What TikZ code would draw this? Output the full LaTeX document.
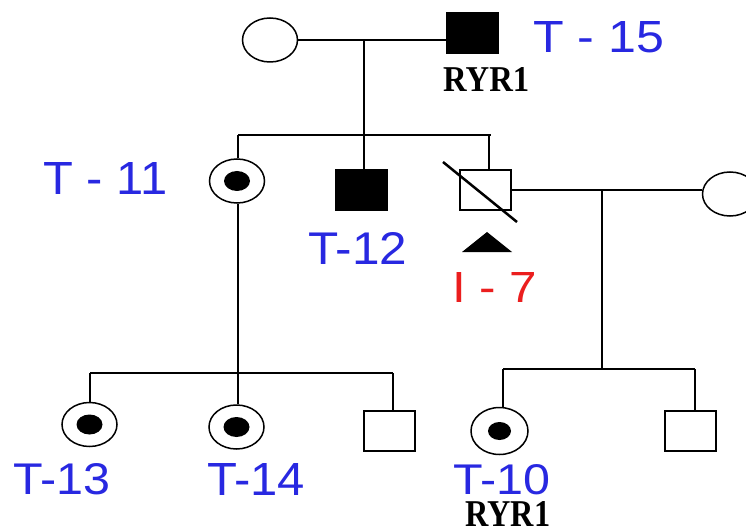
\documentclass[tikz,border=0pt]{standalone}
\usepackage{fontspec}
\usepackage{graphicx}
\newfontfamily\lsans{Liberation Sans}
\newfontfamily\lserif{Liberation Serif}
\usetikzlibrary{shapes.geometric}
\definecolor{lblblue}{RGB}{40,40,225}
\definecolor{lblred}{RGB}{235,30,30}
\newcommand{\fitlabel}[3]{\resizebox{#1pt}{#2pt}{#3}}
\begin{document}
\begin{tikzpicture}[x=1pt,y=-1pt,
  female/.style={ellipse, draw, line width=1.5pt, minimum width=55pt, minimum height=44pt, inner sep=0pt},
  male/.style={rectangle, draw, line width=2pt, minimum width=51pt, minimum height=40pt, inner sep=0pt},
  affected/.style={fill=black},
  carrierdot/.style={ellipse, fill=black, minimum width=26pt, minimum height=20pt, inner sep=0pt},
  link/.style={line width=2pt},
  bluelabel/.style={text=lblblue, inner sep=0pt, anchor=south west},
  redlabel/.style={text=lblred, inner sep=0pt, anchor=south west},
  genelabel/.style={text=black, inner sep=0pt, anchor=south west}]
\useasboundingbox (0,0) rectangle (746,529);
\clip (0,0) rectangle (746,529);
\fill[white] (0,0) rectangle (746,529);

% generation I
\node[female] (p1) at (270,40) {};
\node[male, affected] (p2) at (472.5,33) {};
% generation II
\node[female] (t11) at (237,181) {};
\node[carrierdot] (t11d) at (t11.center) {};
\node[male, affected] (t12) at (361.5,190.5) {};
\node[male] (i7) at (485,190.5) {};
\node[female] (w) at (730,194) {};
% generation III
\node[female] (t13) at (89.5,424.5) {};
\node[carrierdot] (t13d) at (t13.center) {};
\node[female] (t14) at (236.5,427) {};
\node[carrierdot] (t14d) at (t14.center) {};
\node[male] (s1) at (389,430.5) {};
\node[female, minimum width=57pt, minimum height=47pt] (t10) at (499.5,431) {};
\node[carrierdot, minimum width=23pt, minimum height=18pt] (t10d) at (t10.center) {};
\node[male] (s2) at (690.5,431) {};

% junctions
\coordinate (j1) at (364,40);
\coordinate (j1b) at (364,135);
\coordinate (a11) at (238,135);
\coordinate (a7) at (489,135);
\coordinate (j2) at (602,190.5);
\coordinate (j2b) at (602,369);
\coordinate (a10) at (503,369);
\coordinate (as2) at (695,369);
\coordinate (a13) at (90,373);
\coordinate (as1) at (393,373);

% connectors
\draw[link] (p1.east) -- (p1.east -| p2.west);
\draw[link] (j1) -- (j1 |- t12.north);
\draw[link] (a11) -- ([xshift=1.5pt]a7);
\draw[link] (a11) -- (a11 |- t11.north);
\draw[link] (a7) -- (a7 |- i7.north);
\draw[link] (i7.east) -- (i7.east -| w.west);
\draw[link] (j2) -- (j2b);
\draw[link] (a10) -- (as2);
\draw[link] (a10) -- (a10 |- t10.north);
\draw[link] (as2) -- (as2 |- s2.north);
\draw[link] (a11 |- t11.south) -- (a11 |- t14.north);
\draw[link] (a13) -- (as1);
\draw[link] (a13) -- (a13 |- t13.north);
\draw[link] (as1) -- (as1 |- s1.north);

% deceased slash and proband triangle
\draw[line width=2.5pt] ([shift={(-42,-28.5)}]i7.center) -- ([shift={(32,31.5)}]i7.center);
\fill ([shift={(-23,61.5)}]i7.center) -- ([shift={(27,61.5)}]i7.center) -- ([shift={(2,41.5)}]i7.center) -- cycle;

% labels
\node[bluelabel] (l15) at (533,53) {\fitlabel{131}{31}{\lsans T - 15}};
\node[genelabel] (g15) at (443,92) {\fitlabel{86}{24}{\lserif\bfseries RYR1}};
\node[bluelabel] (l11) at (43,195) {\fitlabel{124}{32}{\lsans T - 11}};
\node[bluelabel] (l12) at (308,265) {\fitlabel{99}{32}{\lsans T-12}};
\node[redlabel] (l7) at (452,303) {\fitlabel{85}{30}{\lsans I - 7}};
\node[bluelabel] (l13) at (13,495) {\fitlabel{97}{31}{\lsans T-13}};
\node[bluelabel] (l14) at (207,496) {\fitlabel{98}{32}{\lsans T-14}};
\node[bluelabel] (l10) at (453,495) {\fitlabel{97}{30}{\lsans T-10}};
\node[genelabel] (g10) at (465,527) {\fitlabel{85}{25}{\lserif\bfseries RYR1}};
\end{tikzpicture}
\end{document}
